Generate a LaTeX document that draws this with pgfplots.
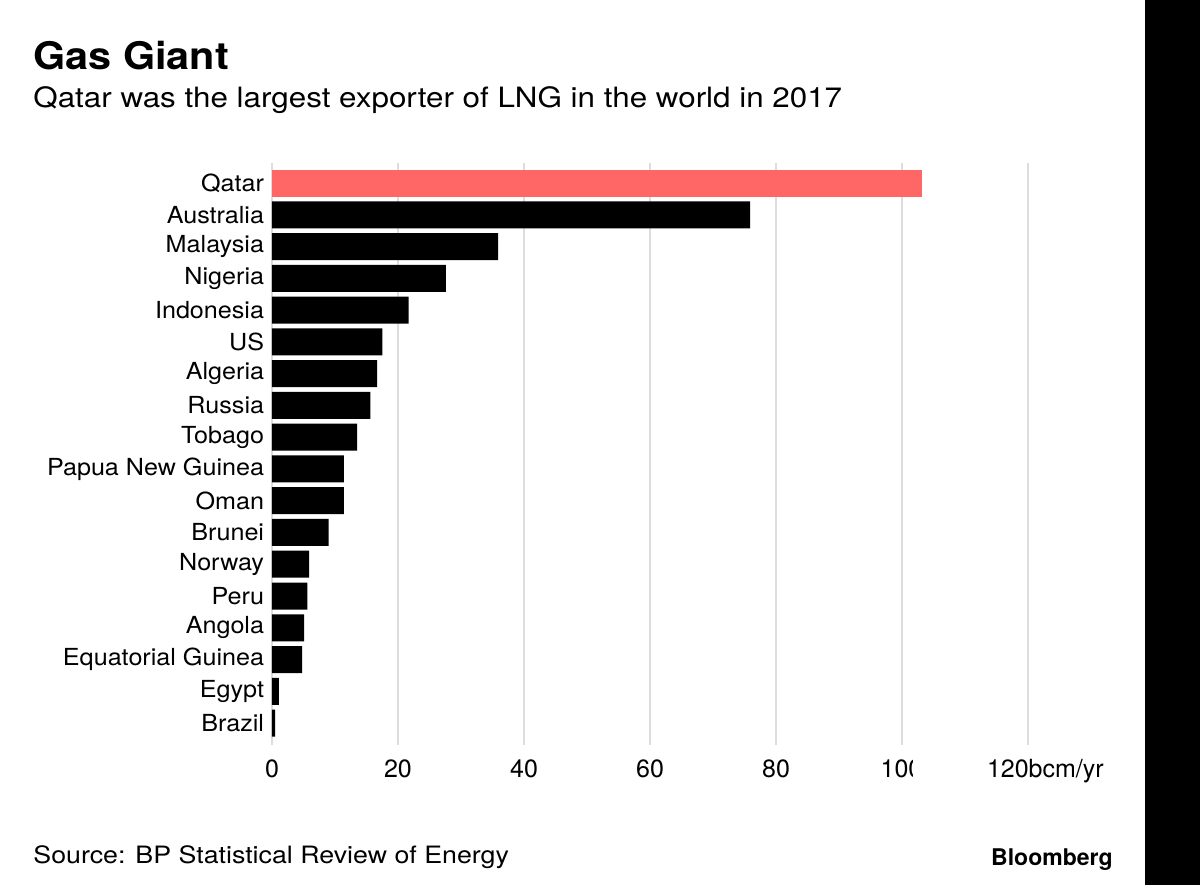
\documentclass[border=0pt]{standalone}
\usepackage{fontspec}
\setmainfont{TeX Gyre Heros}
\newfontfamily\wide[FakeStretch=1.12]{TeX Gyre Heros}
\newfontfamily\tit[FakeStretch=1.09]{TeX Gyre Heros}
\newfontfamily\lbl[FakeStretch=1.07]{TeX Gyre Heros}
\usepackage{pgfplots}
\pgfplotsset{compat=1.18}
\definecolor{qred}{RGB}{255,102,102}
\definecolor{gridgray}{RGB}{221,221,221}
\begin{document}
\begin{tikzpicture}[x=1pt,y=1pt]
\path[use as bounding box] (0,0) rectangle (600,442.5);
\fill[black] (572.5,0) rectangle (600,442.5);
\node[anchor=base west, inner sep=0pt] at (16.5,407.5) {\tit\fontsize{19pt}{22pt}\selectfont\bfseries Gas Giant};
\node[anchor=base west, inner sep=0pt] at (16.5,388.5) {\wide\fontsize{14pt}{17pt}\selectfont Qatar was the largest exporter of LNG in the world in 2017};
\node[anchor=base west, inner sep=0pt] at (16.5,11) {\wide\fontsize{11.95pt}{14pt}\selectfont Source: BP Statistical Review of Energy};
\node[anchor=base east, inner sep=0pt] at (556.5,10) {\fontsize{11.5pt}{14pt}\selectfont\bfseries Bloomberg};
\begin{axis}[
  at={(136pt,70pt)}, anchor=south west,
  scale only axis, width=378pt, height=291pt,
  xmin=0, xmax=120, ymin=-0.63, ymax=17.69,
  y dir=reverse,
  axis line style={draw=none},
  tick style={draw=none},
  xmajorgrids, grid style={gridgray, line width=1pt},
  xtick={0,20,40,60,80,100,120},
  xticklabels={0,20,40,60,80,{10\rlap{0}\hspace{2.5pt}\textcolor{white}{\rule[-0.5pt]{5pt}{9.4pt}}},{\makebox[0pt][l]{\hspace{-20.5pt}120bcm/yr}}},
  xticklabel style={font=\fontsize{12.5pt}{15pt}\selectfont, inner sep=0pt, anchor=north, yshift=-7pt},
  ytick={0,...,17},
  yticklabels={Qatar,Australia,Malaysia,Nigeria,Indonesia,US,Algeria,Russia,Tobago,Papua New Guinea,Oman,Brunei,Norway,Peru,Angola,Equatorial Guinea,Egypt,Brazil},
  yticklabel style={font=\lbl\fontsize{11.75pt}{14pt}\selectfont, inner sep=0pt, anchor=east, xshift=0.5pt},
  xbar, bar width=13.5pt, bar shift=0pt,
  clip=false,
]
\addplot[fill=qred, draw=none] coordinates {(103.2,0)};
\addplot[fill=black, draw=none] coordinates {
(75.9,1) (35.9,2) (27.6,3) (21.7,4) (17.5,5) (16.7,6) (15.6,7) (13.5,8)
(11.4,9) (11.4,10) (9.0,11) (5.9,12) (5.6,13) (5.1,14) (4.8,15) (1.1,16) (0.5,17)};
\end{axis}
\end{tikzpicture}
\end{document}
